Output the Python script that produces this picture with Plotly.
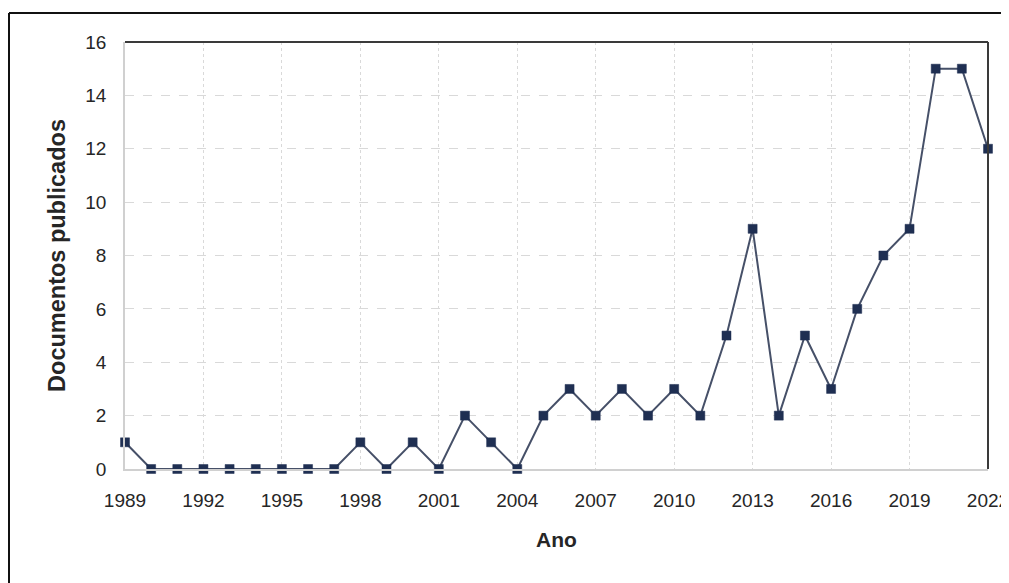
import plotly.graph_objects as go

years = list(range(1989, 2023))
docs = [1, 0, 0, 0, 0, 0, 0, 0, 0, 1, 0, 1, 0, 2, 1, 0, 2, 3, 2, 3, 2, 3, 2, 5, 9, 2, 5, 3, 6, 8, 9, 15, 15, 12]
x_ticks = list(range(1989, 2023, 3))
y_ticks = list(range(0, 17, 2))

# the page body adds an 8px margin, so the figure is 8px smaller
W, H = 1001, 575
L, R, T, B = 117, 21, 34, 114
pw, ph = W - L - R, H - T - B

fig = go.Figure()
fig.add_trace(go.Scatter(
    x=years, y=docs, mode="lines+markers",
    line=dict(color="#465068", width=2),
    marker=dict(symbol="square", size=9, color="#1f2f52",
                line=dict(color="#1f2f52", width=0.5)),
    cliponaxis=False, showlegend=False,
))

font = "Liberation Sans"
fig.update_layout(
    width=W, height=H,
    margin=dict(l=L, r=R, t=T, b=B, autoexpand=False),
    paper_bgcolor="white", plot_bgcolor="white",
    font=dict(family=font, color="#262626"),
    xaxis=dict(
        range=[1989, 2022], tickvals=x_ticks, ticktext=[str(v) for v in x_ticks],
        showgrid=True, gridcolor="#d9d9d9", gridwidth=1, griddash="dot",
        showline=True, linecolor="#d0d0d0", linewidth=1.5,
        ticks="", tickfont=dict(size=19, color="#262626", family=font),
        ticklabelstandoff=13, ticklabeloverflow="allow",
        title=dict(text="<b>Ano</b>", font=dict(size=21, color="#262626", family=font), standoff=23),
        zeroline=False, automargin=False,
    ),
    yaxis=dict(
        range=[0, 16], tickvals=y_ticks,
        showgrid=True, gridcolor="#d9d9d9", gridwidth=1, griddash="dash",
        showline=True, linecolor="#d0d0d0", linewidth=1.5,
        ticks="", tickfont=dict(size=19, color="#262626", family=font),
        ticklabelstandoff=13,
        title=dict(text="<b>Documentos publicados</b>", font=dict(size=23.5, color="#262626", family=font), standoff=13),
        zeroline=False, automargin=False,
    ),
)

# plot-area top and right borders (dark)
fig.add_shape(type="line", xref="paper", yref="paper", x0=0, x1=1, y0=1, y1=1,
              line=dict(color="#3a3a3a", width=2))
fig.add_shape(type="line", xref="paper", yref="paper", x0=1, x1=1, y0=0, y1=1,
              line=dict(color="#3a3a3a", width=2))
# outer chart border (left and top, extending past the picture)
ox = (1 - L) / pw
oy = 1 + (T - 5) / ph
fig.add_shape(type="line", xref="paper", yref="paper", x0=ox, x1=ox, y0=oy, y1=-0.5,
              line=dict(color="#111111", width=2))
fig.add_shape(type="line", xref="paper", yref="paper", x0=ox, x1=1.2, y0=oy, y1=oy,
              line=dict(color="#111111", width=2))

fig.write_html("out.html")
